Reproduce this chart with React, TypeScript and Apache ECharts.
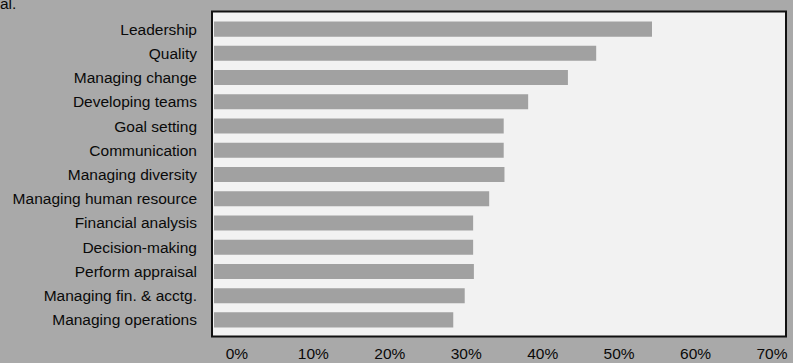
import React, { useEffect, useRef } from "react";
import * as echarts from "echarts";

const categories = [
  "Leadership",
  "Quality",
  "Managing change",
  "Developing teams",
  "Goal setting",
  "Communication",
  "Managing diversity",
  "Managing human resource",
  "Financial analysis",
  "Decision-making",
  "Perform appraisal",
  "Managing fin. & acctg.",
  "Managing operations",
];

const values = [54.3, 47.0, 43.3, 38.1, 34.9, 34.9, 35.0, 33.0, 30.9, 30.9, 31.0, 29.8, 28.3];

const xTickValues = [0, 10, 20, 30, 40, 50, 60, 70];

export default function App() {
  const ref = useRef<HTMLDivElement>(null);
  useEffect(() => {
    if (!ref.current) return;
    const chart = echarts.init(ref.current, undefined, { renderer: "svg" });
    const font = "Liberation Sans, Arial, Helvetica, sans-serif";
    chart.setOption({
      animation: false,
      backgroundColor: "#a9a9a9",
      textStyle: { fontFamily: font },
      graphic: [
        {
          type: "rect",
          z: 0,
          shape: { x: 212, y: 11.5, width: 574, height: 325 },
          style: { fill: "#f2f2f2", stroke: "#111", lineWidth: 2 },
        },
        {
          type: "text",
          left: 0,
          top: -5,
          style: { text: "al.", fontSize: 15.5, fill: "#0a0a0a", fontFamily: font },
        },
      ],
      grid: { left: 214, right: 8, top: 17, bottom: 31, containLabel: false },
      xAxis: {
        type: "value",
        min: -3,
        max: 71.7,
        startValue: -3,
        axisLine: { show: false },
        axisTick: { show: false },
        splitLine: { show: false },
        axisLabel: {
          customValues: xTickValues,
          formatter: "{value}%",
          margin: 13,
          fontSize: 15.5,
          color: "#0a0a0a",
          fontFamily: font,
        },
      },
      yAxis: {
        type: "category",
        data: categories,
        inverse: true,
        axisLine: { show: false },
        axisTick: { show: false },
        splitLine: { show: false },
        axisLabel: {
          margin: 17,
          fontSize: 15.5,
          color: "#0a0a0a",
          fontFamily: font,
        },
      },
      series: [
        {
          type: "bar",
          data: values,
          barCategoryGap: "38%",
          itemStyle: { color: "#a1a1a1" },
        },
      ],
    });
    return () => chart.dispose();
  }, []);
  return (
    <div
      ref={ref}
      style={{ position: "fixed", left: 0, top: 0, width: 793, height: 363 }}
    />
  );
}
